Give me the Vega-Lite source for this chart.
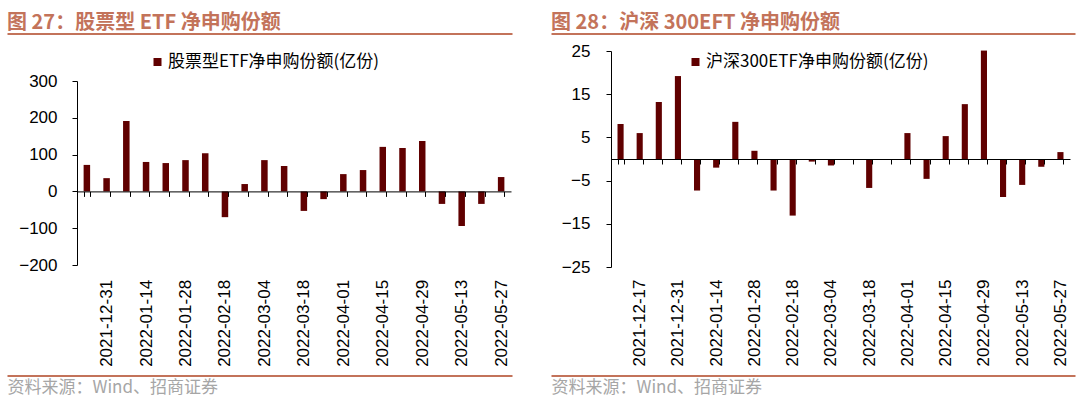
{
  "$schema": "https://vega.github.io/schema/vega-lite/v6.json",
  "padding": {"left": 7, "top": 12, "right": 0, "bottom": 14},
  "background": "white",
  "config": {
    "view": {"stroke": null},
    "axis": {"grid": false, "domainColor": "black", "tickColor": "black", "labelColor": "black", "labelFont": "Liberation Sans", "labelFontSize": 17, "domainWidth": 1, "tickWidth": 1},
    "title": {"font": "Noto Sans CJK SC", "fontSize": 20, "fontWeight": "bold", "color": "#c3735a", "anchor": "start", "frame": "group", "baseline": "alphabetic", "offset": 1}
  },
  "datasets": {
    "etf": [
      {"date": "2021-12-24", "value": 72, "series": "股票型ETF净申购份额(亿份)"},
      {"date": "2021-12-31", "value": 36, "series": "股票型ETF净申购份额(亿份)"},
      {"date": "2022-01-07", "value": 191, "series": "股票型ETF净申购份额(亿份)"},
      {"date": "2022-01-14", "value": 80, "series": "股票型ETF净申购份额(亿份)"},
      {"date": "2022-01-21", "value": 77, "series": "股票型ETF净申购份额(亿份)"},
      {"date": "2022-01-28", "value": 85, "series": "股票型ETF净申购份额(亿份)"},
      {"date": "2022-02-11", "value": 104, "series": "股票型ETF净申购份额(亿份)"},
      {"date": "2022-02-18", "value": -70, "series": "股票型ETF净申购份额(亿份)"},
      {"date": "2022-02-25", "value": 20, "series": "股票型ETF净申购份额(亿份)"},
      {"date": "2022-03-04", "value": 85, "series": "股票型ETF净申购份额(亿份)"},
      {"date": "2022-03-11", "value": 69, "series": "股票型ETF净申购份额(亿份)"},
      {"date": "2022-03-18", "value": -53, "series": "股票型ETF净申购份额(亿份)"},
      {"date": "2022-03-25", "value": -21, "series": "股票型ETF净申购份额(亿份)"},
      {"date": "2022-04-01", "value": 47, "series": "股票型ETF净申购份额(亿份)"},
      {"date": "2022-04-08", "value": 58, "series": "股票型ETF净申购份额(亿份)"},
      {"date": "2022-04-15", "value": 121, "series": "股票型ETF净申购份额(亿份)"},
      {"date": "2022-04-22", "value": 118, "series": "股票型ETF净申购份额(亿份)"},
      {"date": "2022-04-29", "value": 137, "series": "股票型ETF净申购份额(亿份)"},
      {"date": "2022-05-06", "value": -34, "series": "股票型ETF净申购份额(亿份)"},
      {"date": "2022-05-13", "value": -94, "series": "股票型ETF净申购份额(亿份)"},
      {"date": "2022-05-20", "value": -34, "series": "股票型ETF净申购份额(亿份)"},
      {"date": "2022-05-27", "value": 39, "series": "股票型ETF净申购份额(亿份)"}
    ],
    "hs300": [
      {"date": "2021-12-10", "value": 8.1, "series": "沪深300ETF净申购份额(亿份)"},
      {"date": "2021-12-17", "value": 6.0, "series": "沪深300ETF净申购份额(亿份)"},
      {"date": "2021-12-24", "value": 13.2, "series": "沪深300ETF净申购份额(亿份)"},
      {"date": "2021-12-31", "value": 19.2, "series": "沪深300ETF净申购份额(亿份)"},
      {"date": "2022-01-07", "value": -7.3, "series": "沪深300ETF净申购份额(亿份)"},
      {"date": "2022-01-14", "value": -2.0, "series": "沪深300ETF净申购份额(亿份)"},
      {"date": "2022-01-21", "value": 8.6, "series": "沪深300ETF净申购份额(亿份)"},
      {"date": "2022-01-28", "value": 1.9, "series": "沪深300ETF净申购份额(亿份)"},
      {"date": "2022-02-11", "value": -7.3, "series": "沪深300ETF净申购份额(亿份)"},
      {"date": "2022-02-18", "value": -13.1, "series": "沪深300ETF净申购份额(亿份)"},
      {"date": "2022-02-25", "value": -0.6, "series": "沪深300ETF净申购份额(亿份)"},
      {"date": "2022-03-04", "value": -1.5, "series": "沪深300ETF净申购份额(亿份)"},
      {"date": "2022-03-11", "value": 0, "series": "沪深300ETF净申购份额(亿份)"},
      {"date": "2022-03-18", "value": -6.7, "series": "沪深300ETF净申购份额(亿份)"},
      {"date": "2022-03-25", "value": 0, "series": "沪深300ETF净申购份额(亿份)"},
      {"date": "2022-04-01", "value": 6.0, "series": "沪深300ETF净申购份额(亿份)"},
      {"date": "2022-04-08", "value": -4.6, "series": "沪深300ETF净申购份额(亿份)"},
      {"date": "2022-04-15", "value": 5.3, "series": "沪深300ETF净申购份额(亿份)"},
      {"date": "2022-04-22", "value": 12.7, "series": "沪深300ETF净申购份额(亿份)"},
      {"date": "2022-04-29", "value": 25.1, "series": "沪深300ETF净申购份额(亿份)"},
      {"date": "2022-05-06", "value": -8.8, "series": "沪深300ETF净申购份额(亿份)"},
      {"date": "2022-05-13", "value": -6.0, "series": "沪深300ETF净申购份额(亿份)"},
      {"date": "2022-05-20", "value": -1.8, "series": "沪深300ETF净申购份额(亿份)"},
      {"date": "2022-05-27", "value": 1.6, "series": "沪深300ETF净申购份额(亿份)"}
    ],
    "frame": [{"k": 0}, {"k": 1}]
  },
  "resolve": {"scale": {"x": "independent", "y": "independent", "color": "independent"}, "legend": {"color": "independent"}},
  "spacing": -31,
  "hconcat": [
    {
      "width": 434, "height": 216,
      "title": {"text": "图 27：股票型 ETF 净申购份额", "dx": -70},
      "resolve": {"scale": {"x": "independent"}, "axis": {"x": "independent"}},
      "layer": [
        {
          "data": {"name": "etf"},
          "mark": {"type": "bar"},
          "encoding": {
            "x": {"field": "date", "type": "ordinal", "sort": null,
              "scale": {"paddingInner": 0.67, "paddingOuter": 0.335},
              "axis": {"title": null, "orient": "bottom", "offset": -75.6, "labelAngle": -90, "labelAlign": "right", "labelBaseline": "middle", "labelPadding": 83, "tickBand": "extent", "tickSize": 5, "labelOverlap": false, "zindex": 1,
                "labelExpr": "indexof(['2021-12-17','2021-12-31','2022-01-14','2022-01-28','2022-02-18','2022-03-04','2022-03-18','2022-04-01','2022-04-15','2022-04-29','2022-05-13','2022-05-27'], datum.value) >= 0 ? datum.label : ''"}},
            "y": {"field": "value", "type": "quantitative",
              "scale": {"domain": [-200, 300], "nice": false, "range": [214, 30]},
              "axis": {"values": [-200, -100, 0, 100, 200, 300], "labelPadding": 15, "tickSize": 5, "title": null}},
            "color": {"field": "series", "type": "nominal", "scale": {"range": ["#600000"]},
              "legend": {"orient": "none", "legendX": 72, "legendY": 2.5, "title": null, "symbolType": "square", "symbolSize": 64, "symbolStrokeWidth": 0, "labelFont": "Noto Sans CJK SC", "labelFontSize": 17, "labelColor": "black", "labelOffset": 2, "labelLimit": 400, "padding": 0}}
          }
        },
        {
          "data": {"name": "frame"},
          "mark": {"type": "text", "text": ""},
          "encoding": {
            "x": {"field": "k", "type": "quantitative", "scale": {"domain": [0, 1], "range": [-70, 435], "nice": false, "zero": false},
              "axis": {"orient": "top", "offset": 17.5, "domain": true, "domainColor": "#c3735a", "domainWidth": 2, "ticks": false, "labels": false, "grid": false, "title": null}}
          }
        },
        {
          "data": {"name": "frame"},
          "mark": {"type": "text", "text": ""},
          "encoding": {
            "x": {"field": "k", "type": "quantitative", "scale": {"domain": [0, 1], "range": [-70, 435], "nice": false, "zero": false},
              "axis": {"orient": "bottom", "offset": 108.5, "domain": true, "domainColor": "#c3735a", "domainWidth": 2, "ticks": false, "labels": false, "grid": false,
                "title": "资料来源：Wind、招商证券", "titleX": -70, "titleY": 4, "titleAlign": "left", "titleBaseline": "top", "titleAngle": 0, "titleColor": "#a6a6a6", "titleFont": "Noto Sans CJK SC", "titleFontSize": 17, "titleFontWeight": "normal", "titleLimit": 0}}
          }
        }
      ]
    },
    {
      "width": 459, "height": 216,
      "title": {"text": "图 28：沪深 300EFT 净申购份额", "dx": -60},
      "resolve": {"scale": {"x": "independent"}, "axis": {"x": "independent"}},
      "layer": [
        {
          "data": {"name": "hs300"},
          "mark": {"type": "bar"},
          "encoding": {
            "x": {"field": "date", "type": "ordinal", "sort": null,
              "scale": {"paddingInner": 0.68, "paddingOuter": 0.34},
              "axis": {"title": null, "orient": "bottom", "offset": -108, "labelAngle": -90, "labelAlign": "right", "labelBaseline": "middle", "labelPadding": 115, "tickBand": "extent", "tickSize": 5, "labelOverlap": false, "zindex": 1,
                "labelExpr": "indexof(['2021-12-17','2021-12-31','2022-01-14','2022-01-28','2022-02-18','2022-03-04','2022-03-18','2022-04-01','2022-04-15','2022-04-29','2022-05-13','2022-05-27'], datum.value) >= 0 ? datum.label : ''"}},
            "y": {"field": "value", "type": "quantitative",
              "scale": {"domain": [-25, 25], "nice": false},
              "axis": {"values": [-25, -15, -5, 5, 15, 25], "labelPadding": 16, "tickSize": 5, "title": null}},
            "color": {"field": "series", "type": "nominal", "scale": {"range": ["#600000"]},
              "legend": {"orient": "none", "legendX": 76, "legendY": 2.5, "title": null, "symbolType": "square", "symbolSize": 64, "symbolStrokeWidth": 0, "labelFont": "Noto Sans CJK SC", "labelFontSize": 17, "labelColor": "black", "labelOffset": 2, "labelLimit": 400, "padding": 0}}
          }
        },
        {
          "data": {"name": "frame"},
          "mark": {"type": "text", "text": ""},
          "encoding": {
            "x": {"field": "k", "type": "quantitative", "scale": {"domain": [0, 1], "range": [-60, 464], "nice": false, "zero": false},
              "axis": {"orient": "top", "offset": 17.5, "domain": true, "domainColor": "#c3735a", "domainWidth": 2, "ticks": false, "labels": false, "grid": false, "title": null}}
          }
        },
        {
          "data": {"name": "frame"},
          "mark": {"type": "text", "text": ""},
          "encoding": {
            "x": {"field": "k", "type": "quantitative", "scale": {"domain": [0, 1], "range": [-60, 464], "nice": false, "zero": false},
              "axis": {"orient": "bottom", "offset": 108.5, "domain": true, "domainColor": "#c3735a", "domainWidth": 2, "ticks": false, "labels": false, "grid": false,
                "title": "资料来源：Wind、招商证券", "titleX": -60, "titleY": 4, "titleAlign": "left", "titleBaseline": "top", "titleAngle": 0, "titleColor": "#a6a6a6", "titleFont": "Noto Sans CJK SC", "titleFontSize": 17, "titleFontWeight": "normal", "titleLimit": 0}}
          }
        }
      ]
    }
  ]
}
